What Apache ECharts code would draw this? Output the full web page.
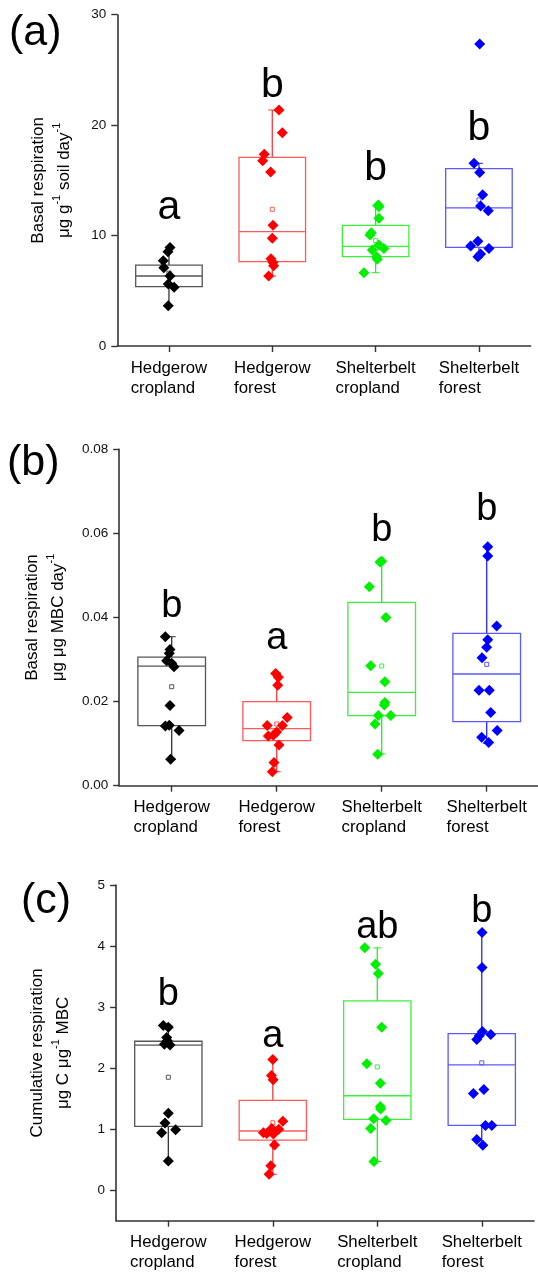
<!DOCTYPE html>
<html>
<head>
<meta charset="utf-8">
<script src="https://cdn.jsdelivr.net/npm/echarts@6/dist/echarts.min.js"></script>
<style>
  html, body { margin: 0; padding: 0; background: #fff; }
  #chart { width: 538px; height: 1277px; }
</style>
</head>
<body>
<div id="chart"></div>
<script>
const groups = ['Hedgerow\ncropland', 'Hedgerow\nforest', 'Shelterbelt\ncropland', 'Shelterbelt\nforest'];

// (a) basal respiration, ug g-1 soil day-1
const aLow = [3.65, 6.34, 6.64, 8.09];
const aQ1 = [5.37, 7.64, 8.09, 8.93];
const aMed = [6.34, 10.35, 9.02, 12.5];
const aQ3 = [7.33, 17.08, 10.93, 16.06];
const aHigh = [8.93, 21.37, 12.68, 16.54];
const aMean = [6.6, 12.38, 9.54, 13.22];
const aLetters = ['a', 'b', 'b', 'b'];
const aLetterY = [12.56, 23.57, 16.03, 19.65];
const aPoints = [
    [8.93, 8.54, 7.73, 7.09, 6.34, 5.62, 5.31, 3.65],
    [21.37, 19.32, 17.36, 16.78, 15.76, 10.93, 9.75, 7.91, 7.55, 7.27, 6.34],
    [12.77, 12.6, 11.56, 10.25, 10.05, 9.15, 8.84, 8.69, 8.09, 7.85, 6.64],
    [27.35, 16.54, 15.7, 13.7, 12.68, 12.25, 9.48, 9.06, 8.84, 8.33, 8.09]
];
const aJitter = [
    [0.01, -0.01, -0.055, -0.05, 0.01, -0.007, 0.05, -0.007],
    [0.065, 0.097, -0.078, -0.093, -0.016, 0.007, 0, -0.013, 0.007, 0.013, -0.035],
    [0.026, 0.032, 0.032, -0.042, -0.055, 0.032, 0.08, -0.032, 0.01, 0.016, -0.113],
    [0.007, -0.048, 0.007, 0.036, 0.016, 0.09, -0.01, -0.08, 0.097, 0.016, -0.01]
];

// (b) basal respiration, ug ug MBC day-1
const bLow = [0.00634, 0.00333, 0.00753, 0.0101];
const bQ1 = [0.01427, 0.0107, 0.01665, 0.01522];
const bMed = [0.02846, 0.01356, 0.0222, 0.02656];
const bQ3 = [0.0306, 0.01998, 0.0436, 0.03623];
const bHigh = [0.03543, 0.02687, 0.0534, 0.0568];
const bMean = [0.02354, 0.01467, 0.02846, 0.02885];
const bLetters = ['b', 'a', 'b', 'b'];
const bLetterY = [0.0426, 0.035, 0.0606, 0.0657];
const bPoints = [
    [0.0354, 0.0324, 0.0315, 0.0297, 0.0291, 0.0283, 0.0191, 0.0142, 0.0144, 0.0131, 0.0063],
    [0.0267, 0.0258, 0.0239, 0.0162, 0.0143, 0.0143, 0.0128, 0.012, 0.0118, 0.0097, 0.0055, 0.0033],
    [0.0534, 0.0532, 0.0473, 0.04, 0.0285, 0.0247, 0.0198, 0.0192, 0.0167, 0.0167, 0.0147, 0.0075],
    [0.0568, 0.0546, 0.038, 0.0347, 0.0329, 0.0304, 0.0227, 0.0227, 0.0174, 0.0131, 0.0115, 0.0103]
];
const bJitter = [
    [-0.061, -0.016, -0.023, -0.048, 0, 0.022, -0.016, -0.06, -0.023, 0.07, -0.01],
    [-0.01, 0.016, 0.01, 0.1, 0.054, -0.09, 0, -0.032, -0.08, 0.022, -0.026, -0.042],
    [0, -0.016, -0.118, 0.04, -0.105, 0.03, 0.03, 0.025, -0.032, 0.086, -0.064, -0.038],
    [0.01, 0.01, 0.095, 0.01, 0, -0.045, -0.073, 0.025, 0.038, 0.1, -0.048, 0.019]
];

// (c) cumulative respiration, ug C ug-1 MBC
const cLow = [0.48, 0.26, 0.47, 0.735];
const cQ1 = [1.046, 0.82, 1.16, 1.062];
const cMed = [2.375, 0.97, 1.547, 2.053];
const cQ3 = [2.44, 1.47, 3.1, 2.565];
const cHigh = [2.7, 2.14, 3.97, 4.22];
const cMean = [1.85, 1.105, 2.02, 2.086];
const cLetters = ['b', 'a', 'ab', 'b'];
const cLetterY = [3.2, 2.52, 4.31, 4.56];
const cPoints = [
    [2.7, 2.67, 2.5, 2.45, 2.39, 2.38, 1.26, 1.1, 0.94, 0.99, 0.48],
    [2.14, 1.88, 1.81, 1.13, 1.0, 1.01, 0.94, 0.93, 0.92, 0.74, 0.4, 0.26],
    [3.97, 3.7, 3.55, 2.67, 2.07, 1.75, 1.37, 1.33, 1.17, 1.14, 1.01, 0.47],
    [4.22, 3.65, 2.6, 2.53, 2.55, 2.47, 1.585, 1.65, 1.06, 1.06, 0.83, 0.735]
];
const cJitter = [
    [-0.048, 0, -0.016, -0.01, -0.038, 0.016, 0, -0.032, -0.064, 0.07, 0],
    [0, -0.013, 0.003, 0.096, 0.057, -0.01, -0.09, -0.058, 0.006, 0.016, -0.019, -0.035],
    [-0.12, -0.016, 0.01, 0.042, -0.1, 0.029, 0.029, 0.032, -0.035, 0.083, -0.064, -0.032],
    [0.003, 0.003, 0.006, -0.023, 0.086, -0.048, -0.08, 0.02, 0.035, 0.096, -0.048, 0.01]
];

const font = '"Liberation Sans", Arial, Helvetica, sans-serif';
const pointColors = ['#000000', '#ff0000', '#00f000', '#0000ff'];
const boxColors = ['#555555', '#ff5a5a', '#3cf03c', '#5a5aff'];
const whiskerColors = ['#333333', '#ff3a3a', '#22ee22', '#2626ff'];

const panels = [
    { tag: '(a)', low: aLow, q1: aQ1, med: aMed, q3: aQ3, high: aHigh, mean: aMean, letters: aLetters, letterY: aLetterY, points: aPoints, jitter: aJitter,
      grid: { left: 117.3, top: 14.7, width: 413.3, height: 331.3 }, tagPos: { left: 9, top: 12 }, letterSize: 41,
      y: { min: 0, max: 30, interval: 10 }, name: '{n|Basal respiration}\n{n|μg g}{s|-1}{n| soil day}{s|-1}', nameGap: 40 },
    { tag: '(b)', low: bLow, q1: bQ1, med: bMed, q3: bQ3, high: bHigh, mean: bMean, letters: bLetters, letterY: bLetterY, points: bPoints, jitter: bJitter,
      grid: { left: 119.2, top: 449.3, width: 420, height: 336.4 }, tagPos: { left: 7, top: 442 }, letterSize: 38,
      y: { min: 0, max: 0.08, interval: 0.02, fmt: v => v.toFixed(2) }, name: '{n|Basal respiration}\n{n|μg μg MBC day}{s|-1}', nameGap: 42 },
    { tag: '(c)', low: cLow, q1: cQ1, med: cMed, q3: cQ3, high: cHigh, mean: cMean, letters: cLetters, letterY: cLetterY, points: cPoints, jitter: cJitter,
      grid: { left: 116.1, top: 885, width: 417.9, height: 335.7 }, tagPos: { left: 21, top: 880 }, letterSize: 38,
      y: { min: -0.5, max: 5, ticks: [0, 1, 2, 3, 4, 5] }, name: '{n|Cumulative respiration}\n{n|μg C μg}{s|-1}{n| MBC}', nameGap: 40 }
];

function boxRenderer(p) {
    return function (params, api) {
        const i = api.value(0);
        const half = api.size([1, 0])[0] * 0.322;
        const cx = api.coord([i, 0])[0];
        const py = k => api.coord([i, api.value(k)])[1];
        const yLow = py(1), yQ1 = py(2), yMed = py(3), yQ3 = py(4), yHigh = py(5), yMean = py(6);
        const bc = boxColors[params.dataIndex];
        const wc = whiskerColors[params.dataIndex];
        const lw = 1.3;
        return {
            type: 'group',
            children: [
                { type: 'line', shape: { x1: cx, y1: yQ3, x2: cx, y2: yHigh }, style: { stroke: wc, lineWidth: lw } },
                { type: 'line', shape: { x1: cx, y1: yQ1, x2: cx, y2: yLow }, style: { stroke: wc, lineWidth: lw } },
                { type: 'line', shape: { x1: cx - 4, y1: yHigh, x2: cx + 4, y2: yHigh }, style: { stroke: wc, lineWidth: 1 } },
                { type: 'line', shape: { x1: cx - 4, y1: yLow, x2: cx + 4, y2: yLow }, style: { stroke: wc, lineWidth: 1 } },
                { type: 'rect', shape: { x: cx - half, y: yQ3, width: half * 2, height: yQ1 - yQ3 }, style: { stroke: bc, fill: 'none', lineWidth: lw } },
                { type: 'line', shape: { x1: cx - half, y1: yMed, x2: cx + half, y2: yMed }, style: { stroke: bc, lineWidth: lw } },
                { type: 'rect', shape: { x: cx - 2, y: yMean - 2, width: 4, height: 4 }, style: { stroke: bc, fill: 'none', lineWidth: 1 } }
            ]
        };
    };
}

function letterRenderer(p) {
    return function (params, api) {
        const pt = api.coord([api.value(0), api.value(1)]);
        return {
            type: 'text',
            x: pt[0], y: pt[1],
            style: { text: p.letters[params.dataIndex], fontSize: p.letterSize, fontFamily: font, fill: '#000', align: 'center', verticalAlign: 'middle' }
        };
    };
}

const option = {
    animation: false,
    backgroundColor: '#fff',
    textStyle: { fontFamily: font },
    title: panels.map(p => ({
        text: p.tag, left: p.tagPos.left, top: p.tagPos.top, padding: 0,
        textStyle: { fontSize: 43, fontWeight: 'normal', color: '#000', fontFamily: font }
    })),
    grid: panels.map(p => Object.assign({ outerBoundsMode: 'none' }, p.grid)),
    xAxis: panels.map((p, k) => ({
        type: 'value', gridIndex: k, min: -0.5, max: 3.5,
        splitLine: { show: false },
        axisLine: { onZero: false, lineStyle: { color: '#333', width: 1.6 } },
        axisTick: { customValues: [0, 1, 2, 3], length: 6, lineStyle: { color: '#333', width: 1.4 } },
        axisLabel: {
            customValues: [0, 1, 2, 3], margin: 12,
            formatter: v => '{t|' + groups[Math.round(v)] + '}',
            rich: { t: { fontSize: 16.8, lineHeight: 20, align: 'left', color: '#000', fontFamily: font } }
        }
    })),
    yAxis: panels.map((p, k) => ({
        type: 'value', gridIndex: k, min: p.y.min, max: p.y.max, interval: p.y.interval,
        splitLine: { show: false },
        axisLine: { show: true, onZero: false, lineStyle: { color: '#333', width: 1.6 } },
        axisTick: { show: true, length: 6, customValues: p.y.ticks, lineStyle: { color: '#333', width: 1.4 } },
        axisLabel: { margin: 11, fontSize: 13.5, color: '#111', customValues: p.y.ticks, formatter: p.y.fmt },
        name: p.name, nameLocation: 'middle', nameRotate: 90, nameGap: p.nameGap,
        nameTextStyle: {
            fontFamily: font, color: '#000', fontSize: 17, lineHeight: 26,
            rich: {
                n: { fontSize: 17, lineHeight: 26, color: '#000', fontFamily: font },
                s: { fontSize: 11, lineHeight: 14, verticalAlign: 'top', color: '#000', fontFamily: font }
            }
        }
    })),
    series: []
};

panels.forEach((p, k) => {
    option.series.push({
        type: 'custom', xAxisIndex: k, yAxisIndex: k, z: 2,
        renderItem: boxRenderer(p),
        encode: { x: 0, y: [1, 2, 3, 4, 5, 6] },
        data: groups.map((g, i) => [i, p.low[i], p.q1[i], p.med[i], p.q3[i], p.high[i], p.mean[i]])
    });
    p.points.forEach((vals, i) => {
        option.series.push({
            type: 'scatter', xAxisIndex: k, yAxisIndex: k, z: 3,
            symbol: 'diamond', symbolSize: 11,
            itemStyle: { color: pointColors[i], opacity: 1 },
            data: vals.map((v, j) => [i + p.jitter[i][j], v])
        });
    });
    option.series.push({
        type: 'custom', xAxisIndex: k, yAxisIndex: k, z: 4,
        renderItem: letterRenderer(p),
        data: p.letters.map((t, i) => [i, p.letterY[i]])
    });
});

const chart = echarts.init(document.getElementById('chart'));
chart.setOption(option);
window.addEventListener('resize', () => chart.resize());
</script>
</body>
</html>
